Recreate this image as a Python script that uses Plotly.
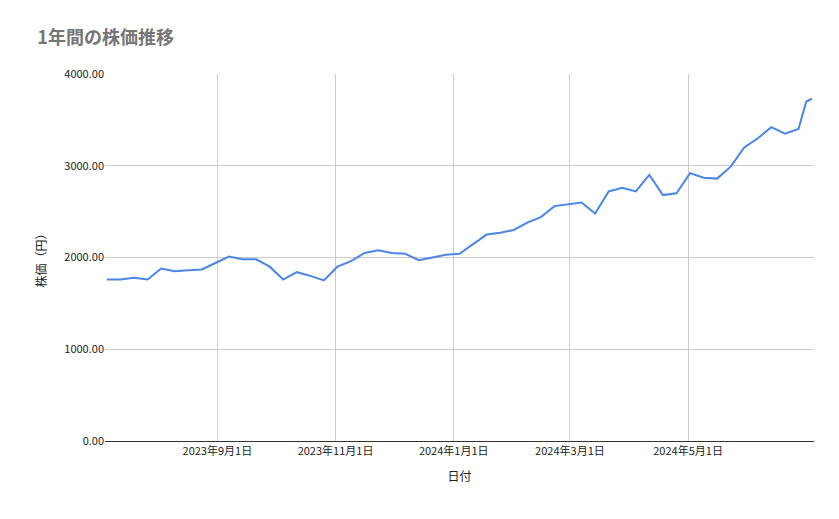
import plotly.graph_objects as go

# weekly closing prices
dates = [
    "2023-07-06", "2023-07-13", "2023-07-20", "2023-07-27", "2023-08-03", "2023-08-10",
    "2023-08-17", "2023-08-24", "2023-08-31", "2023-09-07", "2023-09-14", "2023-09-21",
    "2023-09-28", "2023-10-05", "2023-10-12", "2023-10-19", "2023-10-26", "2023-11-02",
    "2023-11-09", "2023-11-16", "2023-11-23", "2023-11-30", "2023-12-07", "2023-12-14",
    "2023-12-21", "2023-12-28", "2024-01-04", "2024-01-11", "2024-01-18", "2024-01-25",
    "2024-02-01", "2024-02-08", "2024-02-15", "2024-02-22", "2024-02-29", "2024-03-07",
    "2024-03-14", "2024-03-21", "2024-03-28", "2024-04-04", "2024-04-11", "2024-04-18",
    "2024-04-25", "2024-05-02", "2024-05-09", "2024-05-16", "2024-05-23", "2024-05-30",
    "2024-06-06", "2024-06-13", "2024-06-20", "2024-06-27", "2024-07-01", "2024-07-04",
]
prices = [
    1760, 1760, 1780, 1760, 1880, 1850,
    1860, 1870, 1940, 2010, 1980, 1980,
    1900, 1760, 1840, 1800, 1750, 1900,
    1960, 2050, 2080, 2050, 2040, 1970,
    2000, 2030, 2040, 2150, 2250, 2270,
    2300, 2380, 2440, 2560, 2580, 2600,
    2480, 2720, 2760, 2720, 2900, 2680,
    2700, 2920, 2870, 2860, 2990, 3200,
    3300, 3420, 3350, 3400, 3700, 3730,
]
tick_dates = ["2023-09-01", "2023-11-01", "2024-01-01", "2024-03-01", "2024-05-01"]
tick_labels = ["2023年9月1日", "2023年11月1日", "2024年1月1日", "2024年3月1日", "2024年5月1日"]

font = "Noto Sans CJK JP"

fig = go.Figure(go.Scatter(
    x=dates, y=prices, mode="lines",
    line=dict(color="#4a86e8", width=2),
))

fig.update_layout(
    width=839, height=519,
    paper_bgcolor="white", plot_bgcolor="white",
    margin=dict(l=97, r=33, t=66, b=86),
    font=dict(family=font, size=11, color="#222"),
    title=dict(text="<b>1年間の株価推移</b>", x=0.035, y=0.955, xanchor="left",
               font=dict(size=18, color="#757575", family=font)),
    showlegend=False,
)
fig.update_xaxes(
    range=["2023-07-05", "2024-07-05"],
    tickvals=tick_dates, ticktext=tick_labels,
    showgrid=True, gridcolor="#cccccc",
    showline=True, linecolor="#333", ticks="",
    title=dict(text="日付", font=dict(size=12)),
)
fig.update_yaxes(
    range=[0, 4000], tickvals=[0, 1000, 2000, 3000, 4000], tickformat=".2f",
    showgrid=True, gridcolor="#cccccc", zeroline=False,
    title=dict(text="株価（円）", font=dict(size=12)),
)

fig.write_html("out.html")
